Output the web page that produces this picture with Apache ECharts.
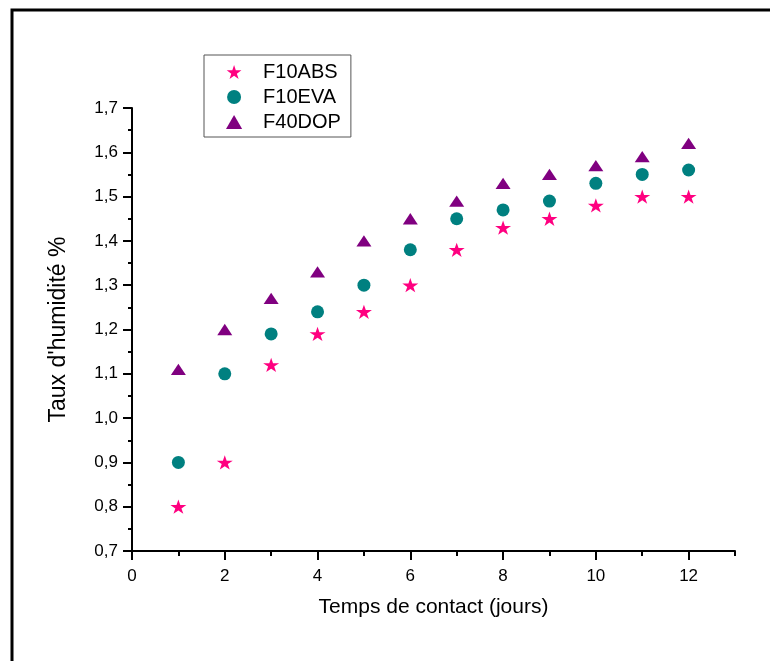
<!DOCTYPE html>
<html>
<head>
<meta charset="utf-8">
<script src="https://cdn.jsdelivr.net/npm/echarts@6/dist/echarts.min.js"></script>
<style>
html,body{margin:0;padding:0;background:#fff;}
#chart{width:770px;height:661px;}
</style>
</head>
<body>
<div id="chart"></div>
<script>
// ---- Data ----
const days = [1, 2, 3, 4, 5, 6, 7, 8, 9, 10, 11, 12];
const f10abs = [0.80, 0.90, 1.12, 1.19, 1.24, 1.30, 1.38, 1.43, 1.45, 1.48, 1.50, 1.50];
const f10eva = [0.90, 1.10, 1.19, 1.24, 1.30, 1.38, 1.45, 1.47, 1.49, 1.53, 1.55, 1.56];
const f40dop = [1.11, 1.20, 1.27, 1.33, 1.40, 1.45, 1.49, 1.53, 1.55, 1.57, 1.59, 1.62];
const seriesNames = ['F10ABS', 'F10EVA', 'F40DOP'];
const xMajorTicks = [0, 2, 4, 6, 8, 10, 12];
const xMinorTicks = [1, 3, 5, 7, 9, 11, 13];

const pairs = (ys) => days.map((d, i) => [d, ys[i]]);
const STAR = 'path://M0,-100 L22.45,-30.9 L95.1,-30.9 L36.3,11.8 L58.8,80.9 L0,38.2 L-58.8,80.9 L-36.3,11.8 L-95.1,-30.9 L-22.45,-30.9 Z';
const TRI = 'path://M0,0 L75,130 L-75,130 Z';
const FONT = 'Arial, "Liberation Sans", sans-serif';

const chart = echarts.init(document.getElementById('chart'), null, {renderer: 'canvas'});
chart.setOption({
  backgroundColor: '#fff',
  animation: false,
  textStyle: {fontFamily: FONT, color: '#000'},
  graphic: [{
    type: 'rect', silent: true, z: 100,
    shape: {x: 12, y: 10, width: 900, height: 800},
    style: {fill: 'none', stroke: '#000', lineWidth: 3}
  }],
  grid: {left: 132, top: 108, right: 35, bottom: 110, containLabel: false},
  legend: {
    orient: 'vertical', left: 204, top: 55,
    padding: [7, 10, 5, 22],
    itemWidth: 48, itemHeight: 14, itemGap: 5,
    symbolKeepAspect: true,
    borderColor: '#555', borderWidth: 1,
    textStyle: {fontFamily: FONT, fontSize: 20, lineHeight: 20, color: '#000'},
    data: seriesNames
  },
  xAxis: [{
    type: 'value', min: 0, max: 13, interval: 1,
    name: 'Temps de contact (jours)', nameLocation: 'middle', nameGap: 46,
    nameTextStyle: {fontFamily: FONT, fontSize: 21, color: '#000'},
    axisLine: {show: true, onZero: false, lineStyle: {color: '#000', width: 2}},
    axisTick: {show: true, length: 9, lineStyle: {color: '#000', width: 2}, customValues: xMajorTicks},
    axisLabel: {fontFamily: FONT, fontSize: 17, color: '#000', margin: 17, customValues: xMajorTicks},
    splitLine: {show: false}
  }, {
    type: 'value', min: 0, max: 13, interval: 1, position: 'bottom',
    axisLine: {show: false, onZero: false},
    axisTick: {show: true, length: 5, lineStyle: {color: '#000', width: 2}, customValues: xMinorTicks},
    axisLabel: {show: false},
    splitLine: {show: false}
  }],
  yAxis: {
    type: 'value', min: 0.7, max: 1.7, interval: 0.1,
    name: "Taux d'humidité %", nameLocation: 'middle', nameGap: 62, nameRotate: 90,
    nameTextStyle: {fontFamily: FONT, fontSize: 23, color: '#000'},
    axisLine: {show: true, onZero: false, lineStyle: {color: '#000', width: 2}},
    axisTick: {show: true, length: 9, lineStyle: {color: '#000', width: 2}},
    minorTick: {show: true, splitNumber: 2, length: 4, lineStyle: {color: '#000', width: 2}},
    axisLabel: {fontFamily: FONT, fontSize: 17, color: '#000', margin: 14,
      formatter: v => v.toFixed(1).replace('.', ',')},
    splitLine: {show: false}
  },
  series: [{
    name: seriesNames[0], type: 'scatter', data: pairs(f10abs),
    symbol: STAR, symbolSize: [16, 15], symbolKeepAspect: true,
    itemStyle: {color: '#FF0080', opacity: 1}
  }, {
    name: seriesNames[1], type: 'scatter', data: pairs(f10eva),
    symbol: 'circle', symbolSize: 13,
    itemStyle: {color: '#008080', opacity: 1}
  }, {
    name: seriesNames[2], type: 'scatter', data: pairs(f40dop),
    symbol: TRI, symbolSize: [15, 13], symbolKeepAspect: true,
    itemStyle: {color: '#800080', opacity: 1}
  }]
});
</script>
</body>
</html>
